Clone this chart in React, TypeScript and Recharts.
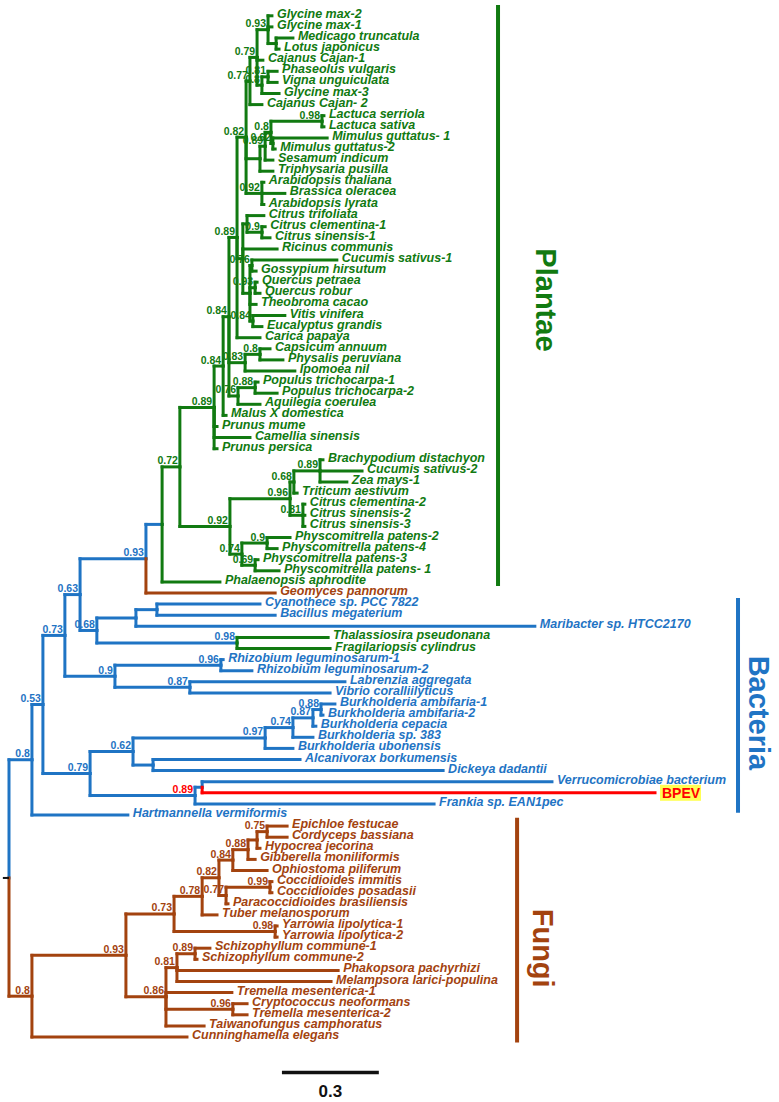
import React from "react";
import { ScatterChart, Scatter, XAxis, YAxis, ReferenceLine } from "recharts";

type Clade = "P" | "B" | "F" | "R";

const cladeColors: Record<Clade, string> = {
  P: "#117a11",
  B: "#1f74c4",
  F: "#a3430f",
  R: "#ff0000",
};

// internal nodes: [id, parent, distance from root, support, colour of the branch into it]
const nodeRows: [string, string | null, number, string, Clade][] = [
  ["root", null, 0, "", "B"],
  ["bac", "root", 0.071, "0.8", "B"],
  ["b53", "bac", 0.105, "0.53", "B"],
  ["b73", "b53", 0.173, "0.73", "B"],
  ["b63", "b73", 0.22, "0.63", "B"],
  ["b93", "b63", 0.424, "0.93", "B"],
  ["pl", "b93", 0.474, "", "B"],
  ["p72", "pl", 0.529, "0.72", "P"],
  ["p89a", "p72", 0.635, "0.89", "P"],
  ["p84a", "p89a", 0.663, "0.84", "P"],
  ["p84b", "p84a", 0.681, "0.84", "P"],
  ["p89b", "p84b", 0.706, "0.89", "P"],
  ["p82", "p89b", 0.734, "0.82", "P"],
  ["p77", "p82", 0.746, "0.77", "P"],
  ["p79", "p77", 0.768, "0.79", "P"],
  ["p93", "p79", 0.802, "0.93", "P"],
  ["pML", "p93", 0.827, "", "P"],
  ["p80a", "p79", 0.783, "0.8", "P"],
  ["p81", "p80a", 0.802, "0.81", "P"],
  ["pAst", "p82", 0.777, "", "P"],
  ["p89c", "pAst", 0.793, "0.89", "P"],
  ["p80b", "p89c", 0.811, "0.8", "P"],
  ["p98", "p80b", 0.969, "0.98", "P"],
  ["p62", "p80b", 0.817, "0.62", "P"],
  ["p92a", "p82", 0.783, "0.92", "P"],
  ["pRos", "p89b", 0.724, "", "P"],
  ["pCit", "pRos", 0.737, "", "P"],
  ["p90", "pCit", 0.783, "0.9", "P"],
  ["pM", "pRos", 0.746, "", "P"],
  ["p76a", "pM", 0.752, "0.76", "P"],
  ["p93b", "pM", 0.762, "0.93", "P"],
  ["p84c", "pM", 0.755, "0.84", "P"],
  ["p83", "p84b", 0.731, "0.83", "P"],
  ["p80c", "p83", 0.777, "0.8", "P"],
  ["p76b", "p84b", 0.709, "0.76", "P"],
  ["p88", "p76b", 0.762, "0.88", "P"],
  ["p92b", "p72", 0.684, "0.92", "P"],
  ["p96", "p92b", 0.87, "0.96", "P"],
  ["p68", "p96", 0.882, "0.68", "P"],
  ["p89d", "p68", 0.963, "0.89", "P"],
  ["p81b", "p96", 0.91, "0.81", "P"],
  ["p74", "p92b", 0.721, "0.74", "P"],
  ["p90b", "p74", 0.799, "0.9", "P"],
  ["p69", "p74", 0.762, "0.69", "P"],
  ["b68", "b63", 0.272, "0.68", "B"],
  ["bCy", "b68", 0.393, "", "B"],
  ["bCB", "bCy", 0.458, "", "B"],
  ["d98", "b68", 0.706, "0.98", "B"],
  ["b90", "b73", 0.328, "0.9", "B"],
  ["b96", "b90", 0.656, "0.96", "B"],
  ["b87", "b90", 0.56, "0.87", "B"],
  ["b79", "b53", 0.251, "0.79", "B"],
  ["b62", "b79", 0.384, "0.62", "B"],
  ["b97", "b62", 0.793, "0.97", "B"],
  ["b74", "b97", 0.879, "0.74", "B"],
  ["b87b", "b74", 0.941, "0.87", "B"],
  ["b88", "b87b", 0.966, "0.88", "B"],
  ["bAD", "b62", 0.446, "", "B"],
  ["b89", "b79", 0.576, "0.89", "B"],
  ["bVB", "b89", 0.598, "", "B"],
  ["fun", "root", 0.071, "0.8", "F"],
  ["f93", "fun", 0.362, "0.93", "F"],
  ["f73", "f93", 0.511, "0.73", "F"],
  ["f98", "f73", 0.824, "0.98", "F"],
  ["f78", "f73", 0.598, "0.78", "F"],
  ["f82", "f78", 0.65, "0.82", "F"],
  ["f84", "f82", 0.693, "0.84", "F"],
  ["f88", "f84", 0.74, "0.88", "F"],
  ["fX", "f88", 0.768, "", "F"],
  ["f75", "fX", 0.799, "0.75", "F"],
  ["f77", "f82", 0.672, "0.77", "F"],
  ["f99", "f77", 0.808, "0.99", "F"],
  ["f86", "f93", 0.486, "0.86", "F"],
  ["f81", "f86", 0.52, "0.81", "F"],
  ["f89", "f81", 0.576, "0.89", "F"],
  ["f96", "f86", 0.693, "0.96", "F"],
];

// support values printed in red
const redSupports = ["b89"];

// tips, top to bottom: [name, parent, distance from root, colour]
const tipRows: [string, string, number, Clade][] = [
  ["Glycine max-2", "p93", 0.814, "P"],
  ["Glycine max-1", "p93", 0.814, "P"],
  ["Medicago truncatula", "pML", 0.879, "P"],
  ["Lotus japonicus", "pML", 0.836, "P"],
  ["Cajanus Cajan-1", "p79", 0.786, "P"],
  ["Phaseolus vulgaris", "p81", 0.83, "P"],
  ["Vigna unguiculata", "p81", 0.83, "P"],
  ["Glycine max-3", "p80a", 0.836, "P"],
  ["Cajanus Cajan- 2", "p77", 0.783, "P"],
  ["Lactuca serriola", "p98", 0.975, "P"],
  ["Lactuca sativa", "p98", 0.975, "P"],
  ["Mimulus guttatus- 1", "p62", 0.985, "P"],
  ["Mimulus guttatus-2", "p62", 0.824, "P"],
  ["Sesamum indicum", "p89c", 0.817, "P"],
  ["Triphysaria pusilla", "pAst", 0.817, "P"],
  ["Arabidopsis thaliana", "p92a", 0.789, "P"],
  ["Brassica oleracea", "p92a", 0.854, "P"],
  ["Arabidopsis lyrata", "p92a", 0.789, "P"],
  ["Citrus trifoliata", "pCit", 0.789, "P"],
  ["Citrus clementina-1", "p90", 0.793, "P"],
  ["Citrus sinensis-1", "p90", 0.808, "P"],
  ["Ricinus communis", "pRos", 0.83, "P"],
  ["Cucumis sativus-1", "p76a", 1.015, "P"],
  ["Gossypium hirsutum", "p76a", 0.765, "P"],
  ["Quercus petraea", "p93b", 0.768, "P"],
  ["Quercus robur", "p93b", 0.777, "P"],
  ["Theobroma cacao", "pM", 0.765, "P"],
  ["Vitis vinifera", "p84c", 0.854, "P"],
  ["Eucalyptus grandis", "p84c", 0.783, "P"],
  ["Carica papaya", "p89b", 0.777, "P"],
  ["Capsicum annuum", "p80c", 0.808, "P"],
  ["Physalis peruviana", "p80c", 0.848, "P"],
  ["Ipomoea nil", "p83", 0.885, "P"],
  ["Populus trichocarpa-1", "p88", 0.771, "P"],
  ["Populus trichocarpa-2", "p88", 0.83, "P"],
  ["Aquilegia coerulea", "p76b", 0.777, "P"],
  ["Malus X domestica", "p84a", 0.672, "P"],
  ["Prunus mume", "p89a", 0.644, "P"],
  ["Camellia sinensis", "p89a", 0.746, "P"],
  ["Prunus persica", "p89a", 0.644, "P"],
  ["Brachypodium distachyon", "p89d", 0.972, "P"],
  ["Cucumis sativus-2", "p89d", 1.093, "P"],
  ["Zea mays-1", "p89d", 1.046, "P"],
  ["Triticum aestivum", "p68", 0.892, "P"],
  ["Citrus clementina-2", "p81b", 0.916, "P"],
  ["Citrus sinensis-2", "p81b", 0.916, "P"],
  ["Citrus sinensis-3", "p81b", 0.916, "P"],
  ["Physcomitrella patens-2", "p90b", 0.87, "P"],
  ["Physcomitrella patens-4", "p90b", 0.83, "P"],
  ["Physcomitrella patens-3", "p69", 0.771, "P"],
  ["Physcomitrella patens- 1", "p69", 0.836, "P"],
  ["Phalaenopsis aphrodite", "pl", 0.653, "P"],
  ["Geomyces pannorum", "b93", 0.824, "F"],
  ["Cyanothece sp. PCC 7822", "bCB", 0.777, "B"],
  ["Bacillus megaterium", "bCB", 0.824, "B"],
  ["Maribacter sp. HTCC2170", "bCy", 1.628, "B"],
  ["Thalassiosira pseudonana", "d98", 0.988, "P"],
  ["Fragilariopsis cylindrus", "d98", 0.994, "P"],
  ["Rhizobium leguminosarum-1", "b96", 0.663, "B"],
  ["Rhizobium leguminosarum-2", "b96", 0.752, "B"],
  ["Labrenzia aggregata", "b87", 1.04, "B"],
  ["Vibrio coralliilyticus", "b87", 0.994, "B"],
  ["Burkholderia ambifaria-1", "b88", 1.009, "B"],
  ["Burkholderia ambifaria-2", "b88", 0.972, "B"],
  ["Burkholderia cepacia", "b87b", 0.95, "B"],
  ["Burkholderia sp. 383", "b74", 0.941, "B"],
  ["Burkholderia ubonensis", "b97", 0.879, "B"],
  ["Alcanivorax borkumensis", "bAD", 0.901, "B"],
  ["Dickeya dadantii", "bAD", 1.344, "B"],
  ["Verrucomicrobiae bacterium", "bVB", 1.681, "B"],
  ["BPEV", "bVB", 2.0, "R"],
  ["Frankia sp. EAN1pec", "b89", 1.316, "B"],
  ["Hartmannella vermiformis", "bac", 0.368, "B"],
  ["Epichloe festucae", "f75", 0.861, "F"],
  ["Cordyceps bassiana", "f75", 0.861, "F"],
  ["Hypocrea jecorina", "fX", 0.777, "F"],
  ["Gibberella moniliformis", "f88", 0.762, "F"],
  ["Ophiostoma piliferum", "f84", 0.799, "F"],
  ["Coccidioides immitis", "f99", 0.814, "F"],
  ["Coccidioides posadasii", "f99", 0.814, "F"],
  ["Paracoccidioides brasiliensis", "f77", 0.678, "F"],
  ["Tuber melanosporum", "f78", 0.644, "F"],
  ["Yarrowia lipolytica-1", "f98", 0.83, "F"],
  ["Yarrowia lipolytica-2", "f98", 0.83, "F"],
  ["Schizophyllum commune-1", "f89", 0.622, "F"],
  ["Schizophyllum commune-2", "f89", 0.582, "F"],
  ["Phakopsora pachyrhizi", "f81", 1.019, "F"],
  ["Melampsora larici-populina", "f81", 0.997, "F"],
  ["Tremella mesenterica-1", "f86", 0.69, "F"],
  ["Cryptococcus neoformans", "f96", 0.737, "F"],
  ["Tremella mesenterica-2", "f96", 0.737, "F"],
  ["Taiwanofungus camphoratus", "f86", 0.604, "F"],
  ["Cunninghamella elegans", "fun", 0.551, "F"],
];

const highlightedTip = "BPEV";

const cladeNames = ["Plantae", "Bacteria", "Fungi"];
const cladeFirst = ["Glycine max-2", "Cyanothece sp. PCC 7822", "Epichloe festucae"];
const cladeLast = ["Phalaenopsis aphrodite", "Hartmannella vermiformis", "Cunninghamella elegans"];
const cladeColor: Clade[] = ["P", "B", "F"];

const scaleBarLength = 0.3;

// ---- layout ----
const W = 779;
const H = 1102;
const PX_PER_UNIT = 323;
const ROOT_PX = 9;
const ROW_PX = 11.1;
const FIRST_ROW_PX = 15.8;
const X_DOMAIN: [number, number] = [-ROOT_PX / PX_PER_UNIT, (W - ROOT_PX) / PX_PER_UNIT];
const Y_MIN = 1 - FIRST_ROW_PX / ROW_PX;
const Y_DOMAIN: [number, number] = [Y_MIN, Y_MIN + H / ROW_PX];
const FONT = "'Liberation Sans', Arial, Helvetica, sans-serif";

// bar x, top pad, bottom pad, label x, label row
const cladeLayout = [
  { barX: 1.514, top: -0.97, bottom: 0.37, textX: 1.662, textRow: 26.6 },
  { barX: 2.257, top: -0.55, bottom: -0.2, textX: 2.322, textRow: 63.8 },
  { barX: 1.573, top: -0.75, bottom: 0.5, textX: 1.652, textRow: 85.0 },
];
const scaleBarX = 0.845;
const scaleBarRow = 96.2;

// ---- build tree geometry ----
type Kid = { tip: boolean; id: string };
const kids: Record<string, Kid[]> = {};
nodeRows.forEach(([id, parent]) => {
  kids[id] = kids[id] || [];
  if (parent) {
    kids[parent] = kids[parent] || [];
    kids[parent].push({ tip: false, id });
  }
});
tipRows.forEach(([name, parent]) => {
  kids[parent] = kids[parent] || [];
  kids[parent].push({ tip: true, id: name });
});

const tipRow: Record<string, number> = {};
tipRows.forEach(([name], i) => (tipRow[name] = i + 1));
const tipInfo: Record<string, [string, string, number, Clade]> = {};
tipRows.forEach((t) => (tipInfo[t[0]] = t));
const nodeInfo: Record<string, [string, string | null, number, string, Clade]> = {};
nodeRows.forEach((n) => (nodeInfo[n[0]] = n));

const nodeY: Record<string, number> = {};
const yOf = (k: Kid): number => {
  if (k.tip) return tipRow[k.id];
  if (nodeY[k.id] !== undefined) return nodeY[k.id];
  const ys = kids[k.id].map(yOf);
  nodeY[k.id] = (Math.min(...ys) + Math.max(...ys)) / 2;
  return nodeY[k.id];
};
yOf({ tip: false, id: "root" });

type Seg = { x1: number; y1: number; x2: number; y2: number; color: string };
const segments: Seg[] = [];
nodeRows.forEach(([id, , px]) => {
  const py = nodeY[id];
  kids[id].forEach((k) => {
    const cy = yOf(k);
    const cx = k.tip ? tipInfo[k.id][2] : nodeInfo[k.id][2];
    const col = cladeColors[k.tip ? tipInfo[k.id][3] : nodeInfo[k.id][4]];
    if (cy !== py) segments.push({ x1: px, y1: py, x2: px, y2: cy, color: col });
    segments.push({ x1: px, y1: cy, x2: cx, y2: cy, color: col });
  });
});

const tipPoints = tipRows.map(([name, , x, c]) => ({ x, y: tipRow[name], name, c }));
const supportPoints = nodeRows
  .filter((n) => n[3] !== "")
  .map(([id, , x, s, c]) => ({ x, y: nodeY[id], s, c: redSupports.includes(id) ? "R" : c }));
const cladeBars = cladeNames.map((name, i) => ({
  name,
  x: cladeLayout[i].barX,
  y1: tipRow[cladeFirst[i]] + cladeLayout[i].top,
  y2: tipRow[cladeLast[i]] + cladeLayout[i].bottom,
  color: cladeColors[cladeColor[i]],
}));
const cladeLabelPoints = cladeNames.map((name, i) => ({
  x: cladeLayout[i].textX,
  y: cladeLayout[i].textRow,
  name,
  c: cladeColor[i],
}));
const scaleLabelPoints = [{ x: scaleBarX + scaleBarLength / 2, y: scaleBarRow + 1.7, s: String(scaleBarLength) }];

const TipLabel = (p: any) => {
  const { cx, cy, payload } = p;
  if (payload.name === highlightedTip) {
    return (
      <g>
        <rect x={cx + 5} y={cy - 8} width={41} height={16} fill="#ffff55" />
        <text x={cx + 7} y={cy + 5} fill={cladeColors.R} fontFamily={FONT} fontWeight="bold" fontSize={14}>
          {payload.name}
        </text>
      </g>
    );
  }
  return (
    <text
      x={cx + 5}
      y={cy + 2}
      fill={cladeColors[payload.c as Clade]}
      fontFamily={FONT}
      fontWeight="bold"
      fontStyle="italic"
      fontSize={12.5}
    >
      {payload.name}
    </text>
  );
};

const SupportLabel = (p: any) => {
  const { cx, cy, payload } = p;
  return (
    <text
      x={cx - 2}
      y={cy - 2.5}
      textAnchor="end"
      fill={cladeColors[payload.c as Clade]}
      fontFamily={FONT}
      fontWeight="bold"
      fontSize={10.5}
    >
      {payload.s}
    </text>
  );
};

const CladeLabel = (p: any) => {
  const { cx, cy, payload } = p;
  return (
    <text
      x={cx}
      y={cy}
      transform={`rotate(90 ${cx} ${cy})`}
      textAnchor="middle"
      dominantBaseline="central"
      fill={cladeColors[payload.c as Clade]}
      fontFamily={FONT}
      fontWeight="bold"
      fontSize={29}
    >
      {payload.name}
    </text>
  );
};

const ScaleLabel = (p: any) => {
  const { cx, cy, payload } = p;
  return (
    <text x={cx} y={cy} textAnchor="middle" dominantBaseline="central" fill="#111" fontFamily={FONT} fontWeight="bold" fontSize={17}>
      {payload.s}
    </text>
  );
};

const App = (): React.ReactElement => {
  const rootY = nodeY["root"];
  return (
    <div style={{ position: "absolute", left: 0, top: 0, background: "#fff" }}>
      <ScatterChart width={W} height={H} margin={{ top: 0, right: 0, bottom: 0, left: 0 }}>
        <XAxis type="number" dataKey="x" domain={X_DOMAIN} hide allowDataOverflow />
        <YAxis type="number" dataKey="y" domain={Y_DOMAIN} hide reversed allowDataOverflow />
        {segments.map((s, i) => (
          <ReferenceLine
            key={"s" + i}
            segment={[
              { x: s.x1, y: s.y1 },
              { x: s.x2, y: s.y2 },
            ]}
            stroke={s.color}
            strokeWidth={3}
            strokeLinecap="square"
          />
        ))}
        <ReferenceLine
          segment={[
            { x: -0.019, y: rootY },
            { x: 0, y: rootY },
          ]}
          stroke="#111"
          strokeWidth={2}
        />
        {cladeBars.map((b) => (
          <ReferenceLine
            key={b.name}
            segment={[
              { x: b.x, y: b.y1 },
              { x: b.x, y: b.y2 },
            ]}
            stroke={b.color}
            strokeWidth={4}
          />
        ))}
        <ReferenceLine
          segment={[
            { x: scaleBarX, y: scaleBarRow },
            { x: scaleBarX + scaleBarLength, y: scaleBarRow },
          ]}
          stroke="#111"
          strokeWidth={3.5}
        />
        <Scatter data={tipPoints} shape={(p: any) => <TipLabel {...p} />} isAnimationActive={false} />
        <Scatter data={supportPoints} shape={(p: any) => <SupportLabel {...p} />} isAnimationActive={false} />
        <Scatter data={cladeLabelPoints} shape={(p: any) => <CladeLabel {...p} />} isAnimationActive={false} />
        <Scatter data={scaleLabelPoints} shape={(p: any) => <ScaleLabel {...p} />} isAnimationActive={false} />
      </ScatterChart>
    </div>
  );
};

export default App;
